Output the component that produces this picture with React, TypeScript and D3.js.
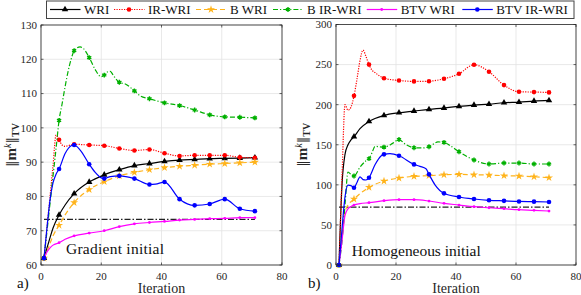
import * as d3 from "d3";

type Pt = [number, number];

// ---- panel a) gradient initial ----
const gradWRI: Pt[] = [[1,62],[2,65],[3,68],[4,70.8],[6,74.6],[8,77.5],[11,80.8],[16,84.2],[21,86.3],[26,87.8],[31,89.0],[36,89.6],[41,90.2],[46,90.6],[51,90.8],[56,91.0],[61,91.1],[66,91.2],[71,91.3]];
const gradIRWRI: Pt[] = [[1,62],[2,71],[3,80],[4,89],[5,97.9],[6,96.5],[7,95],[8,94.6],[9,94.8],[11,95.2],[16,95.0],[21,94.8],[26,94.0],[31,93.4],[36,93.7],[41,92.6],[46,91.8],[51,92.0],[56,92.0],[61,92.0],[66,91.4],[71,91.3]];
const gradBWRI: Pt[] = [[1,62],[2,64],[3,66.3],[4,68.5],[6,71.6],[8,74.6],[11,78.2],[16,82.0],[21,84.3],[26,86.0],[31,87.0],[36,87.8],[41,88.4],[46,88.8],[51,89.1],[56,89.4],[61,89.6],[66,89.8],[71,90.0]];
const gradBIRWRI: Pt[] = [[1,62],[2,70],[3,78],[4,86],[5,94],[6,102.2],[7,107],[8,112],[9,116.5],[10,120],[11,122.5],[13,123.6],[14,123.2],[16,120.5],[18,117],[20,114.9],[21,115.4],[22,116.3],[23,116.5],[24,115.3],[26,113.3],[28,112.8],[31,110.8],[33,109.3],[36,108.5],[41,107.3],[46,106.5],[51,105.2],[56,103.8],[61,103.2],[66,103.1],[71,102.9]];
const gradBTVWRI: Pt[] = [[1,62],[2,63.8],[3,65],[4,65.8],[6,66.5],[8,67.5],[11,68.5],[16,69.3],[21,70.0],[26,71.2],[31,72.0],[36,72.4],[41,72.7],[46,73.1],[51,73.3],[56,73.5],[61,73.6],[66,73.8],[71,73.8]];
const gradBTVIRWRI: Pt[] = [[1,62],[2,71],[3,79],[4,84],[5,86.5],[6,88],[8,92.5],[10,94.8],[11,95.0],[13,93.5],[16,89.4],[18,87],[20,85.4],[21,85.2],[23,85.8],[26,86.0],[31,85.2],[36,83.5],[38,83.6],[41,84.2],[46,79.2],[51,77.4],[56,77.8],[61,79.2],[66,76.4],[71,75.7]];
const gradRef = 73.3;

// ---- panel b) homogeneous initial ----
const homWRI: Pt[] = [[1,0],[2,100],[3,138],[4,150],[5,156],[6,160],[8,170],[11,179],[16,186.6],[21,189.9],[26,192.0],[31,194.1],[36,195.8],[41,197.9],[46,199.5],[51,200.7],[56,202.4],[61,203.2],[66,204.5],[71,205.3]];
const homIRWRI: Pt[] = [[1,0],[2,110],[3,200],[4,193],[5,197],[6,211],[7,232],[8,255],[9,268],[10,260],[11,250],[12,243],[13,240],[16,233],[21,230.2],[26,229],[31,229.3],[36,232.3],[41,238.6],[46,249.8],[51,241.1],[56,224.4],[61,216.1],[66,215.7],[71,215.3]];
const homBWRI: Pt[] = [[1,0],[2,35],[3,65],[4,75],[5,79],[6,82.3],[8,89],[11,96.9],[16,104.7],[21,108.5],[26,110.6],[31,111.4],[36,112.6],[41,113],[46,112.6],[51,112.2],[56,111.4],[61,111],[66,110.1],[71,108.9]];
const homBIRWRI: Pt[] = [[1,0],[2,30],[3,75],[4,116],[5,113],[6,111],[8,122],[10,130],[11,132.6],[12,140],[13,148],[16,147],[19,152],[21,156.5],[23,151],[26,146.3],[29,146],[31,147.5],[34,153.5],[36,153],[38,149],[41,141.3],[46,131],[51,126],[56,127.2],[61,127.2],[66,126],[71,126]];
const homBTVWRI: Pt[] = [[1,0],[2,30],[3,62],[4,70],[5,73],[6,74.8],[8,76.5],[11,77.7],[16,80.2],[21,81.5],[26,81.5],[31,79.8],[36,76.9],[41,74.8],[46,72.7],[51,71.4],[56,70.2],[61,69],[66,68.2],[71,67.3]];
const homBTVIRWRI: Pt[] = [[1,0],[2,45],[3,85],[4,99.7],[5,99],[6,96.4],[7,103],[8,110],[9,106.5],[10,106],[11,108.9],[13,125],[15,136],[16,138],[18,139],[21,136.3],[26,125.5],[28,123],[30,120],[31,113.1],[33,100],[36,89.4],[41,84.8],[46,82.3],[51,80.7],[56,80],[61,79.3],[66,79],[71,78.6]];
const homRef = 72.3;

const legendNames = ["WRI", "IR-WRI", "B WRI", "B IR-WRI", "BTV WRI", "BTV IR-WRI"];
const xTicks = [0, 20, 40, 60, 80];
const gradYTicks = [60, 70, 80, 90, 100, 110, 120, 130];
const homYTicks = [0, 50, 100, 150, 200, 250, 300];

const styles = [
  { color: "#000000", dash: "none", marker: "triangle" },
  { color: "#ff0000", dash: "1.2,1.3", marker: "circle" },
  { color: "#ffb31a", dash: "5,3", marker: "star" },
  { color: "#00b000", dash: "5,2,1.2,2", marker: "asterisk" },
  { color: "#ff00ff", dash: "none", marker: "dot" },
  { color: "#0000ff", dash: "none", marker: "circle" },
];

// serif font set on every text element directly
const TXT = { fontFamily: '"Liberation Serif"' };
const BARS = { fontFamily: '"DejaVu Serif"' };

function Marker({ kind, x, y, color }: { kind: string; x: number; y: number; color: string }) {
  if (kind === "circle") return <circle cx={x} cy={y} r={2.3} fill={color} />;
  if (kind === "dot") return <circle cx={x} cy={y} r={1.4} fill={color} />;
  if (kind === "triangle")
    return <path d={d3.symbol(d3.symbolTriangle, 18)()!} transform={`translate(${x},${y})`} fill={color} />;
  if (kind === "star")
    return <path d={d3.symbol(d3.symbolStar, 20)()!} transform={`translate(${x},${y})`} fill={color} />;
  return (
    <g transform={`translate(${x},${y})`}>
      <path d={d3.symbol(d3.symbolAsterisk, 16)()!} stroke={color} strokeWidth={1.4} fill="none" />
      <circle r={1.3} fill={color} />
    </g>
  );
}

function Panel(props: {
  xr: [number, number];
  yr: [number, number];
  yDomain: [number, number];
  yTicks: number[];
  series: Pt[][];
  refValue: number;
  note: string;
  noteX: number;
  noteY: number;
  noteLen: number;
  letter: string;
  letterX: number;
  ylabX: number;
}) {
  const { xr, yr, yDomain, yTicks, series, refValue } = props;
  const x = d3.scaleLinear().domain([0, 80]).range(xr);
  const y = d3.scaleLinear().domain(yDomain).range(yr);
  const line = d3
    .line<Pt>()
    .x((d) => x(d[0]))
    .y((d) => y(d[1]))
    .curve(d3.curveMonotoneX);
  const [l, r] = xr;
  const [b, t] = yr;
  const ymid = (b + t) / 2;

  return (
    <g>
      {/* grid */}
      {xTicks.map((v) => (
        <line key={"gx" + v} x1={x(v)} x2={x(v)} y1={t} y2={b} stroke="#e3e3e3" strokeWidth={0.8} />
      ))}
      {yTicks.map((v) => (
        <line key={"gy" + v} x1={l} x2={r} y1={y(v)} y2={y(v)} stroke="#e3e3e3" strokeWidth={0.8} />
      ))}
      {/* reference */}
      <line
        x1={x(1)}
        x2={x(71)}
        y1={y(refValue)}
        y2={y(refValue)}
        stroke="#222"
        strokeWidth={1.2}
        strokeDasharray="6,2,1.5,2"
      />
      {series.map((s, i) => (
        <g key={i}>
          <path d={line(s)!} fill="none" stroke={styles[i].color} strokeWidth={1.2} strokeDasharray={styles[i].dash} />
          {s
            .filter((d) => d[0] % 5 === 1)
            .map((d, j) => (
              <Marker key={j} kind={styles[i].marker} x={x(d[0])} y={y(d[1])} color={styles[i].color} />
            ))}
        </g>
      ))}
      {/* box */}
      <rect x={l} y={t} width={r - l} height={b - t} fill="none" stroke="#262626" strokeWidth={0.8} />
      {xTicks.map((v) => (
        <g key={"tx" + v}>
          <line x1={x(v)} x2={x(v)} y1={b} y2={b - 2.5} stroke="#262626" strokeWidth={0.7} />
          <line x1={x(v)} x2={x(v)} y1={t} y2={t + 2.5} stroke="#262626" strokeWidth={0.7} />
          <text x={x(v)} y={b + 15} textAnchor="middle" fontSize={11} fill="#262626" style={TXT}>
            {v}
          </text>
        </g>
      ))}
      {yTicks.map((v) => (
        <g key={"ty" + v}>
          <line x1={l} x2={l + 2.5} y1={y(v)} y2={y(v)} stroke="#262626" strokeWidth={0.7} />
          <line x1={r} x2={r - 2.5} y1={y(v)} y2={y(v)} stroke="#262626" strokeWidth={0.7} />
          <text x={l - 4} y={y(v)} dy="0.35em" textAnchor="end" fontSize={11} fill="#262626" style={TXT}>
            {v}
          </text>
        </g>
      ))}
      <text x={(l + r) / 2} y={293} textAnchor="middle" fontSize={14} fill="#262626" style={TXT}>
        Iteration
      </text>
      <text
        transform={`translate(${props.ylabX},${ymid}) rotate(-90)`}
        textAnchor="middle"
        fontSize={15}
        fill="#262626"
        style={TXT}
      >
        <tspan style={BARS} fontSize={13}>‖</tspan>
        <tspan fontWeight="bold" fontSize={15}>m</tspan>
        <tspan dy={-5} fontSize={10} fontStyle="italic">k</tspan>
        <tspan dy={5} style={BARS} fontSize={13}>‖</tspan>
        <tspan dy={3} fontSize={10} fontWeight="bold">TV</tspan>
      </text>
      <text
        x={props.noteX}
        y={props.noteY}
        fontSize={15.5}
        textLength={props.noteLen}
        lengthAdjust="spacing"
        fill="#111"
        style={TXT}
      >
        {props.note}
      </text>
      <text x={props.letterX} y={288} fontSize={15} fill="#111" style={TXT}>
        {props.letter}
      </text>
    </g>
  );
}

export default function App() {
  const lineStarts = [50, 114, 196, 273, 366.7, 462.3];
  return (
    <svg width={581} height={295} style={{ position: "absolute", left: 0, top: 0, background: "#fff" }}>
      <Panel
        xr={[41, 282]}
        yr={[265, 25]}
        yDomain={[60, 130]}
        yTicks={gradYTicks}
        series={[gradWRI, gradIRWRI, gradBWRI, gradBIRWRI, gradBTVWRI, gradBTVIRWRI]}
        refValue={gradRef}
        note="Gradient initial"
        noteX={66}
        noteY={254}
        noteLen={98}
        letter="a)"
        letterX={17}
        ylabX={15.5}
      />
      <Panel
        xr={[336, 576]}
        yr={[265, 24.5]}
        yDomain={[0, 300]}
        yTicks={homYTicks}
        series={[homWRI, homIRWRI, homBWRI, homBIRWRI, homBTVWRI, homBTVIRWRI]}
        refValue={homRef}
        note="Homogeneous initial"
        noteX={351.7}
        noteY={256}
        noteLen={129}
        letter="b)"
        letterX={308}
        ylabX={306.5}
      />
      {/* legend */}
      <g>
        <rect x={46.5} y={1} width={527.5} height={17.5} fill="#fff" stroke="#444" strokeWidth={1} />
        {legendNames.map((name, i) => {
          const x0 = lineStarts[i];
          return (
            <g key={name}>
              <line
                x1={x0}
                x2={x0 + 30.5}
                y1={9.5}
                y2={9.5}
                stroke={styles[i].color}
                strokeWidth={1.2}
                strokeDasharray={styles[i].dash}
              />
              <Marker kind={styles[i].marker} x={x0 + 15} y={9.5} color={styles[i].color} />
              <text x={x0 + 34} y={14} fontSize={13} fill="#111" style={TXT}>
                {name}
              </text>
            </g>
          );
        })}
      </g>
    </svg>
  );
}
